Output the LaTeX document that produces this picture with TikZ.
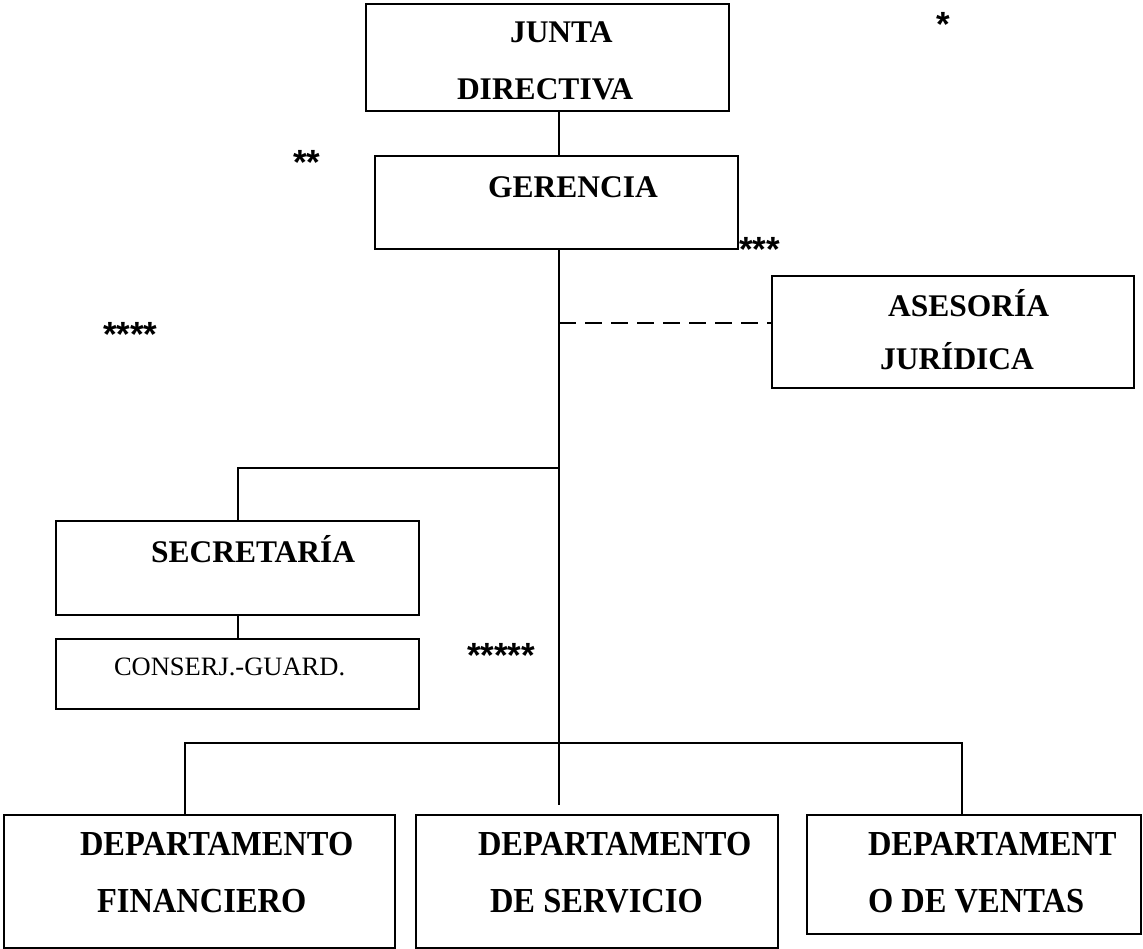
\documentclass[tikz,border=0pt]{standalone}
\usepackage{fontspec}
\setmainfont{Liberation Serif}
\newfontfamily\starfont{Liberation Sans}
\tikzset{
  box/.style={draw=black, line width=2.2pt, rectangle, inner sep=0pt, anchor=north west},
  conn/.style={draw=black, line width=1.8pt},
  dashconn/.style={conn, dash pattern=on 17pt off 9pt},
  btxt/.style={anchor=base west, inner sep=0pt, outer sep=0pt, font=\fontsize{31.5}{36}\selectfont\bfseries},
  dtxt/.style={btxt, font=\fontsize{32.5}{36}\selectfont\bfseries, yscale=1.08},
  rtxt/.style={anchor=base west, inner sep=0pt, outer sep=0pt, font=\fontsize{26.5}{30}\selectfont},
  stars/.style={anchor=base west, inner sep=0pt, outer sep=0pt, font=\starfont\fontsize{35}{38}\selectfont\bfseries}
}
\begin{document}
\begin{tikzpicture}[x=1pt,y=-1pt]
\useasboundingbox[fill=white] (0,0) rectangle (1143,949);

% boxes
\node[box, minimum width=363pt, minimum height=107pt] (junta) at (365,3) {};
\node[box, minimum width=363pt, minimum height=93pt] (gerencia) at (374,155) {};
\node[box, minimum width=362pt, minimum height=112pt] (asesoria) at (771,275) {};
\node[box, minimum width=363pt, minimum height=94pt] (secretaria) at (55,520) {};
\node[box, minimum width=363pt, minimum height=70pt] (conserj) at (55,638) {};
\node[box, minimum width=391pt, minimum height=133pt] (dfin) at (3,814) {};
\node[box, minimum width=362pt, minimum height=133pt] (dser) at (415,814) {};
\node[box, minimum width=334pt, minimum height=119pt] (dven) at (806,814) {};

% texts
\node[btxt] (tjunta1) at (510,43) {JUNTA};
\node[btxt] (tjunta2) at (457,100) {DIRECTIVA};
\node[btxt] (tger) at (488,198) {GERENCIA};
\node[btxt] (tase1) at (888,317) {ASESORÍA};
\node[btxt] (tase2) at (880,370) {JURÍDICA};
\node[btxt] (tsec) at (151,562) {SECRETARÍA};
\node[rtxt] (tcon) at (114,675) {CONSERJ.-GUARD.};
\node[dtxt] (tfin1) at (80,855) {DEPARTAMENTO};
\node[dtxt] (tfin2) at (97,912) {FINANCIERO};
\node[dtxt] (tser1) at (478,855) {DEPARTAMENTO};
\node[dtxt] (tser2) at (490,912) {DE SERVICIO};
\node[dtxt] (tven1) at (868,855) {DEPARTAMENT};
\node[dtxt] (tven2) at (868,912) {O DE VENTAS};

% asterisks
\node[stars] (s1) at (936,37) {*};
\node[stars] (s2) at (293,175) {**};
\node[stars] (s3) at (739,262) {***};
\node[stars] (s4) at (103,347) {****};
\node[stars] (s5) at (467,667) {*****};

% connector helpers
\coordinate (spine) at (559,0);
\coordinate (spineend) at (559,805);
\coordinate (dashy) at (0,323);
\coordinate (secy) at (0,468);
\coordinate (busL) at (185,743);
\coordinate (busR) at (962,743);

% connectors
\draw[conn] (junta.south -| spine) -- (gerencia.north -| spine);
\draw[conn] (gerencia.south -| spine) -- (spineend);
\draw[dashconn] (spine |- dashy) -- (asesoria.west |- dashy);
\draw[conn] (spine |- secy) -| (secretaria.north);
\draw[conn] (secretaria.south) -- (conserj.north);
\draw[conn] (dfin.north -| busL) |- (busR) -- (dven.north -| busR);
\end{tikzpicture}
\end{document}
